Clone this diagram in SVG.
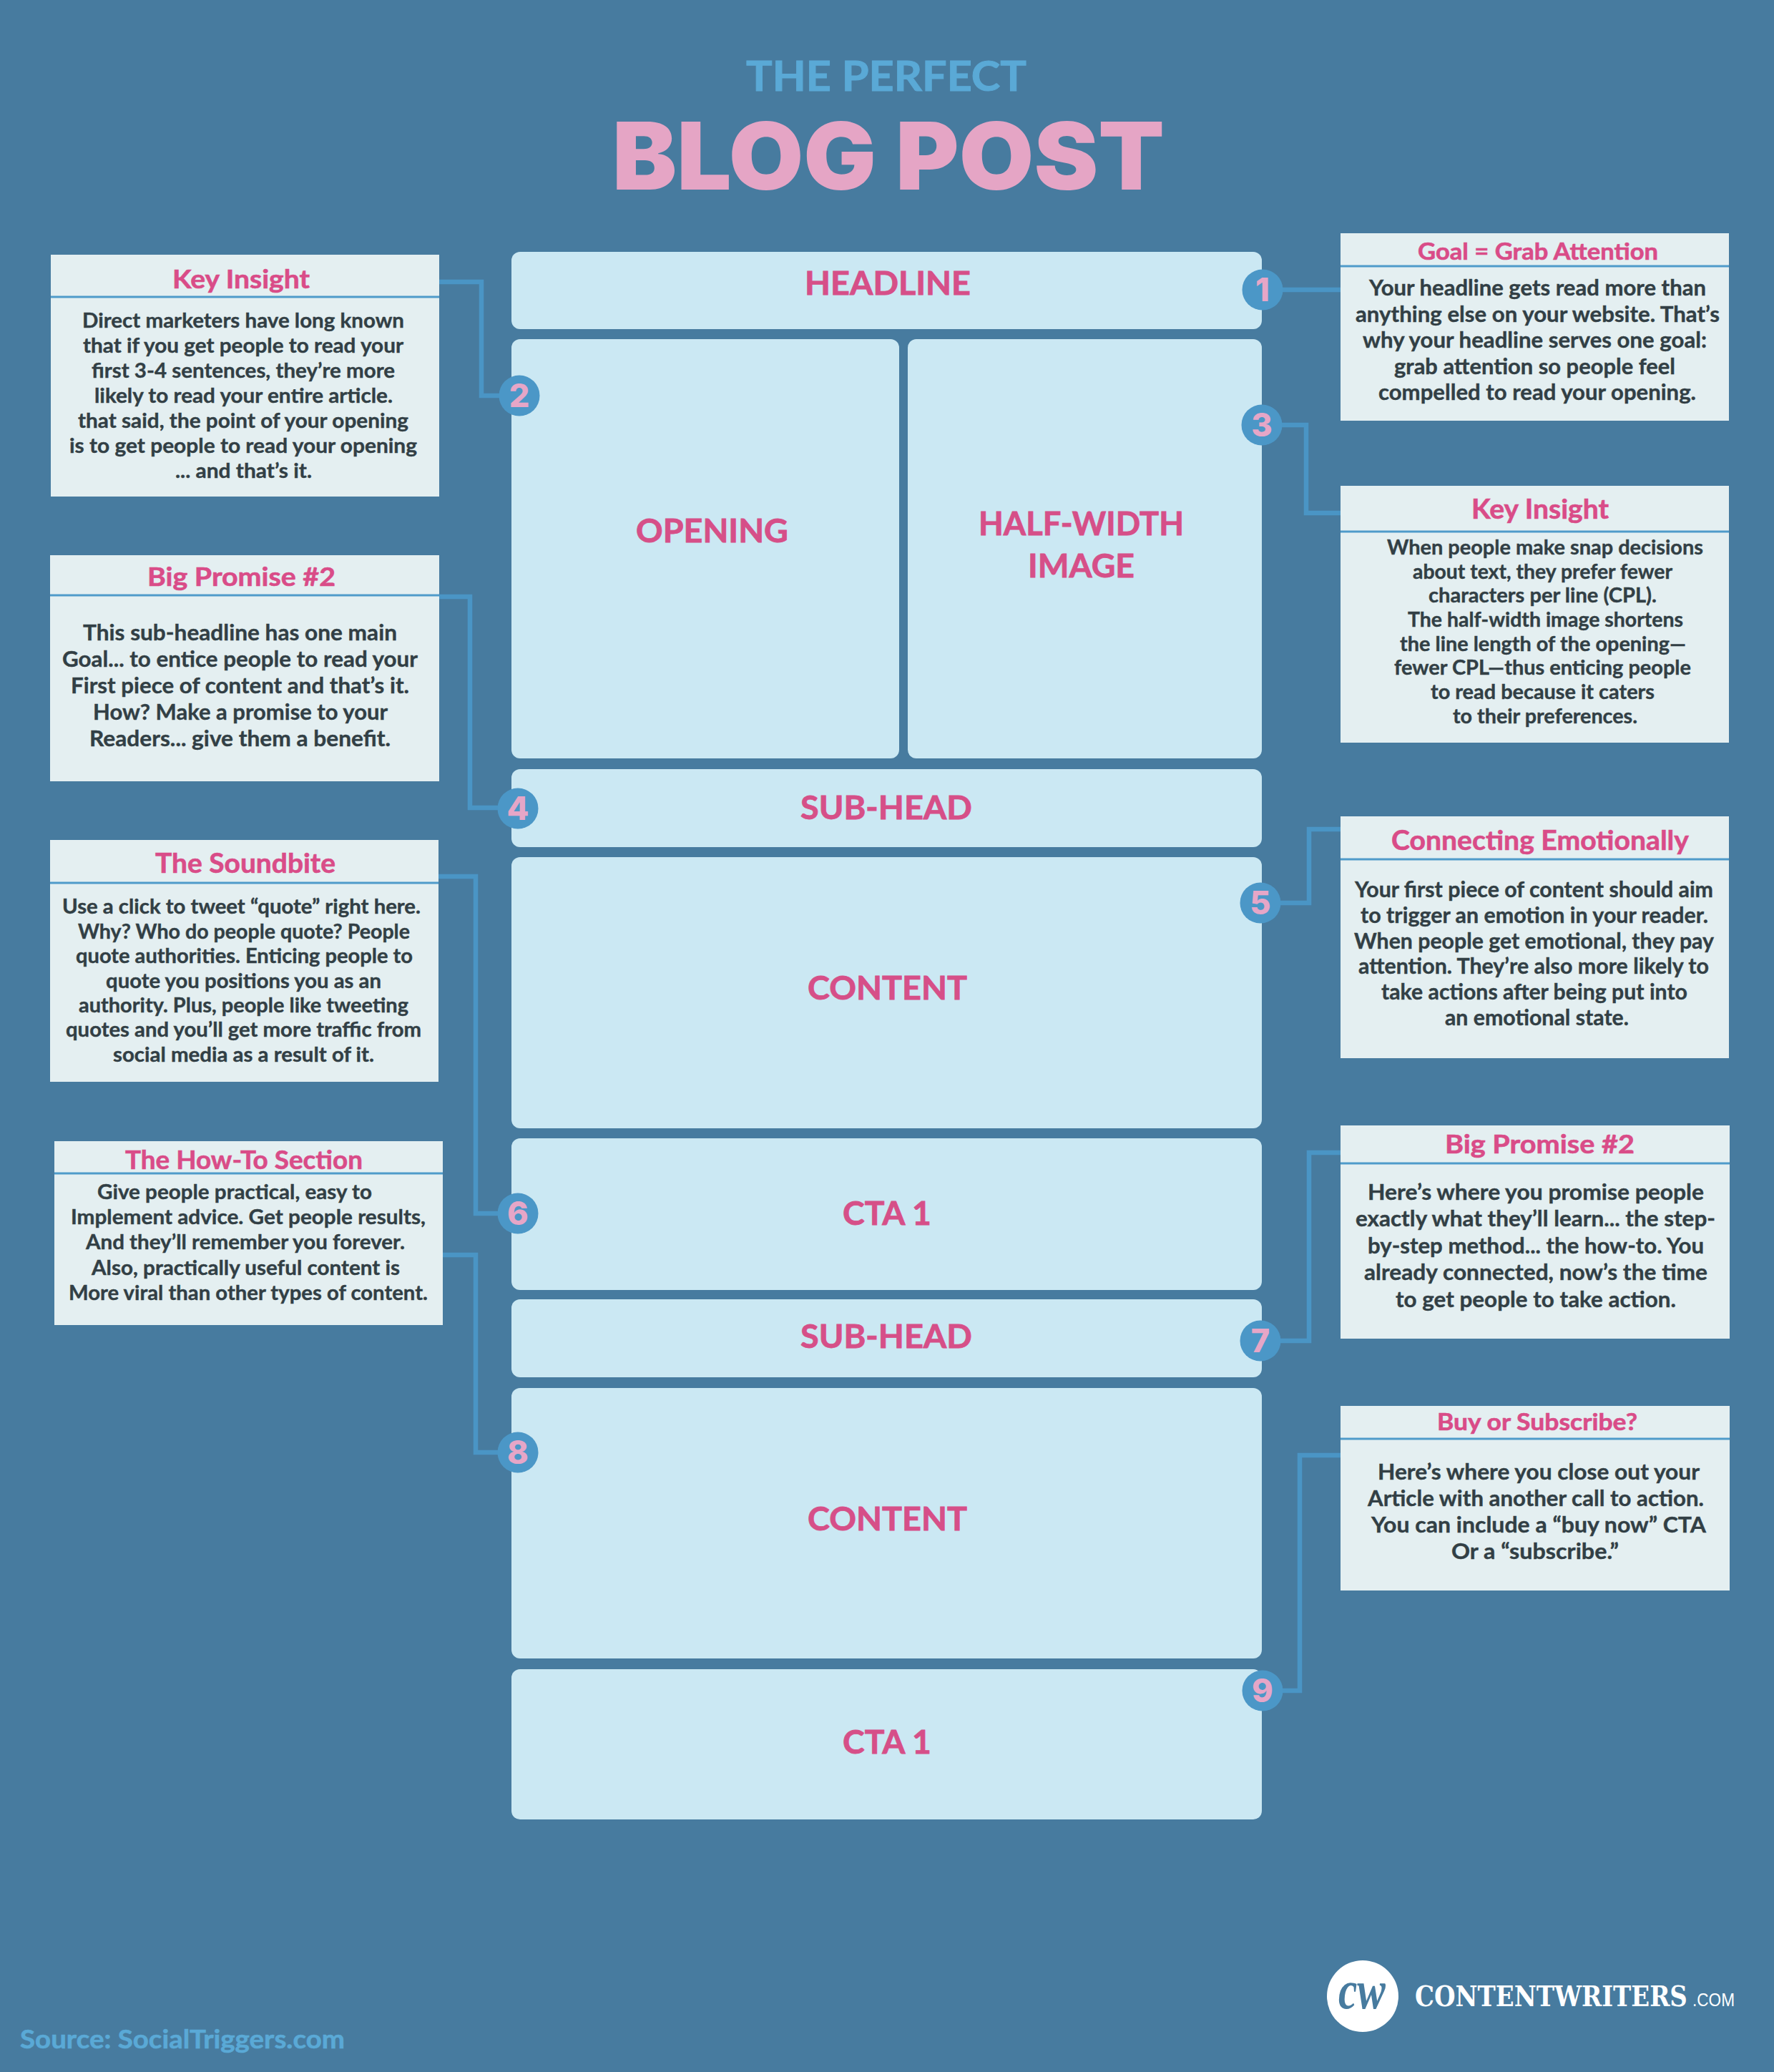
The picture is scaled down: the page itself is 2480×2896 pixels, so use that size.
<svg xmlns="http://www.w3.org/2000/svg" width="2480" height="2896" viewBox="0 0 2480 2896">
<style>
text{font-family:"Lato","Noto Sans","Liberation Sans",sans-serif;font-weight:700}
.blk{fill:#cbe8f3}
.card{fill:#e4eff1}
.rule{stroke:#4f9bca;stroke-width:3;fill:none}
.conn{stroke:#4a95c5;stroke-width:6.5;fill:none}
.bd{fill:#4b97c7}
.num{fill:#e6a6c7;font-family:"Inter","Lato",sans-serif;font-size:45px;font-weight:800;text-anchor:middle}
.lbl{fill:#d64f88;stroke:#d64f88;stroke-width:.8;font-size:45px}
.tt{fill:#d94c88;stroke:#d94c88;stroke-width:.6}
.b{fill:#323f45;stroke:#323f45;stroke-width:.4}
</style>
<rect width="2480" height="2896" fill="#477b9f"/>
<g id="title">
<text x="1043" y="127" font-size="58" fill="#5aa9d6" stroke="#5aa9d6" stroke-width="1" textLength="392" lengthAdjust="spacingAndGlyphs">THE PERFECT</text>
<text x="856" y="265" font-size="130" style="font-family:Inter,Lato,sans-serif;font-weight:900" fill="#e5a5c5" textLength="772" lengthAdjust="spacingAndGlyphs">BLOG POST</text>
</g>
<g id="block-headline"><rect class="blk" x="715" y="352" width="1049" height="108" rx="12"/><text class="lbl" x="1125" y="412" textLength="232" lengthAdjust="spacingAndGlyphs">HEADLINE</text></g>
<g id="block-opening"><rect class="blk" x="715" y="474" width="542" height="586" rx="12"/><text class="lbl" x="889" y="758" textLength="213" lengthAdjust="spacingAndGlyphs">OPENING</text></g>
<g id="block-image"><rect class="blk" x="1269" y="474" width="495" height="586" rx="12"/><text class="lbl" x="1368" y="748" textLength="287" lengthAdjust="spacingAndGlyphs">HALF-WIDTH</text><text class="lbl" x="1437" y="807" textLength="149" lengthAdjust="spacingAndGlyphs">IMAGE</text></g>
<g id="block-subhead-1"><rect class="blk" x="715" y="1075" width="1049" height="109" rx="12"/><text class="lbl" x="1119" y="1145" textLength="240" lengthAdjust="spacingAndGlyphs">SUB-HEAD</text></g>
<g id="block-content-1"><rect class="blk" x="715" y="1198" width="1049" height="379" rx="12"/><text class="lbl" x="1129" y="1397" textLength="223" lengthAdjust="spacingAndGlyphs">CONTENT</text></g>
<g id="block-cta-1"><rect class="blk" x="715" y="1591" width="1049" height="212" rx="12"/><text class="lbl" x="1178" y="1712" textLength="124" lengthAdjust="spacingAndGlyphs">CTA 1</text></g>
<g id="block-subhead-2"><rect class="blk" x="715" y="1816" width="1049" height="109" rx="12"/><text class="lbl" x="1119" y="1884" textLength="240" lengthAdjust="spacingAndGlyphs">SUB-HEAD</text></g>
<g id="block-content-2"><rect class="blk" x="715" y="1940" width="1049" height="378" rx="12"/><text class="lbl" x="1129" y="2139" textLength="223" lengthAdjust="spacingAndGlyphs">CONTENT</text></g>
<g id="block-cta-2"><rect class="blk" x="715" y="2333" width="1049" height="210" rx="12"/><text class="lbl" x="1178" y="2451" textLength="124" lengthAdjust="spacingAndGlyphs">CTA 1</text></g>
<g id="connectors">
<path class="conn" d="M1790 405H1874"/>
<path class="conn" d="M614 394H673V553H700"/>
<path class="conn" d="M1790 594H1826V717H1874"/>
<path class="conn" d="M614 834H657V1129H700"/>
<path class="conn" d="M1788 1262H1830V1159H1874"/>
<path class="conn" d="M613 1225H665V1696H700"/>
<path class="conn" d="M1788 1874H1830V1611H1874"/>
<path class="conn" d="M619 1754H665V2030H700"/>
<path class="conn" d="M1793 2363H1817V2034H1874"/>
</g>
<g id="badge-1"><circle class="bd" cx="1765" cy="405" r="28.5"/><text class="num" x="1765" y="421">1</text></g>
<g id="badge-2"><circle class="bd" cx="726" cy="553" r="28.5"/><text class="num" x="726" y="569">2</text></g>
<g id="badge-3"><circle class="bd" cx="1764" cy="594" r="28.5"/><text class="num" x="1764" y="610">3</text></g>
<g id="badge-4"><circle class="bd" cx="724" cy="1130" r="28.5"/><text class="num" x="724" y="1146">4</text></g>
<g id="badge-5"><circle class="bd" cx="1762" cy="1262" r="28.5"/><text class="num" x="1762" y="1278">5</text></g>
<g id="badge-6"><circle class="bd" cx="724" cy="1696" r="28.5"/><text class="num" x="724" y="1712">6</text></g>
<g id="badge-7"><circle class="bd" cx="1762" cy="1874" r="28.5"/><text class="num" x="1762" y="1890">7</text></g>
<g id="badge-8"><circle class="bd" cx="724" cy="2030" r="28.5"/><text class="num" x="724" y="2046">8</text></g>
<g id="badge-9"><circle class="bd" cx="1765" cy="2363" r="28.5"/><text class="num" x="1765" y="2379">9</text></g>
<g id="card-key-insight-left" font-size="29">
<rect class="card" x="71" y="356" width="543" height="338"/><path class="rule" d="M71 415H614"/>
<text class="tt" font-size="37" x="241" y="403" textLength="192" lengthAdjust="spacingAndGlyphs">Key Insight</text>
<text class="b" x="115" y="458" textLength="450" lengthAdjust="spacingAndGlyphs">Direct marketers have long known</text>
<text class="b" x="116" y="493" textLength="448" lengthAdjust="spacingAndGlyphs">that if you get people to read your</text>
<text class="b" x="128" y="528" textLength="424" lengthAdjust="spacingAndGlyphs">first 3-4 sentences, they’re more</text>
<text class="b" x="132" y="563" textLength="417" lengthAdjust="spacingAndGlyphs">likely to read your entire article.</text>
<text class="b" x="109" y="598" textLength="462" lengthAdjust="spacingAndGlyphs">that said, the point of your opening</text>
<text class="b" x="97" y="633" textLength="486" lengthAdjust="spacingAndGlyphs">is to get people to read your opening</text>
<text class="b" x="245" y="668" textLength="191" lengthAdjust="spacingAndGlyphs">... and that’s it.</text>
</g>
<g id="card-big-promise-left" font-size="31">
<rect class="card" x="70" y="776" width="544" height="316"/><path class="rule" d="M70 832H614"/>
<text class="tt" font-size="37" x="206" y="819" textLength="263" lengthAdjust="spacingAndGlyphs">Big Promise #2</text>
<text class="b" x="116" y="895" textLength="439" lengthAdjust="spacingAndGlyphs">This sub-headline has one main</text>
<text class="b" x="87" y="932" textLength="497" lengthAdjust="spacingAndGlyphs">Goal... to entice people to read your</text>
<text class="b" x="99" y="969" textLength="473" lengthAdjust="spacingAndGlyphs">First piece of content and that’s it.</text>
<text class="b" x="130" y="1006" textLength="412" lengthAdjust="spacingAndGlyphs">How? Make a promise to your</text>
<text class="b" x="125" y="1043" textLength="421" lengthAdjust="spacingAndGlyphs">Readers... give them a benefit.</text>
</g>
<g id="card-soundbite" font-size="28">
<rect class="card" x="70" y="1174" width="543" height="338"/><path class="rule" d="M70 1234H613"/>
<text class="tt" font-size="38" x="217" y="1220" textLength="252" lengthAdjust="spacingAndGlyphs">The Soundbite</text>
<text class="b" x="87" y="1277" textLength="501" lengthAdjust="spacingAndGlyphs">Use a click to tweet “quote” right here.</text>
<text class="b" x="109" y="1312" textLength="464" lengthAdjust="spacingAndGlyphs">Why? Who do people quote? People</text>
<text class="b" x="106" y="1346" textLength="471" lengthAdjust="spacingAndGlyphs">quote authorities. Enticing people to</text>
<text class="b" x="148" y="1381" textLength="385" lengthAdjust="spacingAndGlyphs">quote you positions you as an</text>
<text class="b" x="110" y="1415" textLength="461" lengthAdjust="spacingAndGlyphs">authority. Plus, people like tweeting</text>
<text class="b" x="92" y="1449" textLength="497" lengthAdjust="spacingAndGlyphs">quotes and you’ll get more traffic from</text>
<text class="b" x="158" y="1484" textLength="365" lengthAdjust="spacingAndGlyphs">social media as a result of it.</text>
</g>
<g id="card-how-to" font-size="28">
<rect class="card" x="76" y="1595" width="543" height="257"/><path class="rule" d="M76 1640H619"/>
<text class="tt" font-size="37" x="175" y="1634" textLength="332" lengthAdjust="spacingAndGlyphs">The How-To Section</text>
<text class="b" x="136" y="1676" textLength="384" lengthAdjust="spacingAndGlyphs">Give people practical, easy to</text>
<text class="b" x="99" y="1711" textLength="496" lengthAdjust="spacingAndGlyphs">Implement advice. Get people results,</text>
<text class="b" x="120" y="1746" textLength="446" lengthAdjust="spacingAndGlyphs">And they’ll remember you forever.</text>
<text class="b" x="128" y="1782" textLength="431" lengthAdjust="spacingAndGlyphs">Also, practically useful content is</text>
<text class="b" x="96" y="1817" textLength="502" lengthAdjust="spacingAndGlyphs">More viral than other types of content.</text>
</g>
<g id="card-goal" font-size="30">
<rect class="card" x="1874" y="326" width="543" height="262"/><path class="rule" d="M1874 372H2417"/>
<text class="tt" font-size="32" x="1982" y="363" textLength="336" lengthAdjust="spacingAndGlyphs">Goal = Grab Attention</text>
<text class="b" x="1914" y="413" textLength="471" lengthAdjust="spacingAndGlyphs">Your headline gets read more than</text>
<text class="b" x="1895" y="450" textLength="509" lengthAdjust="spacingAndGlyphs">anything else on your website. That’s</text>
<text class="b" x="1905" y="486" textLength="481" lengthAdjust="spacingAndGlyphs">why your headline serves one goal:</text>
<text class="b" x="1949" y="523" textLength="393" lengthAdjust="spacingAndGlyphs">grab attention so people feel</text>
<text class="b" x="1927" y="559" textLength="444" lengthAdjust="spacingAndGlyphs">compelled to read your opening.</text>
</g>
<g id="card-key-insight-right" font-size="28">
<rect class="card" x="1874" y="679" width="543" height="359"/><path class="rule" d="M1874 743H2417"/>
<text class="tt" font-size="38" x="2057" y="725" textLength="192" lengthAdjust="spacingAndGlyphs">Key Insight</text>
<text class="b" x="1939" y="775" textLength="442" lengthAdjust="spacingAndGlyphs">When people make snap decisions</text>
<text class="b" x="1975" y="809" textLength="363" lengthAdjust="spacingAndGlyphs">about text, they prefer fewer</text>
<text class="b" x="1997" y="842" textLength="319" lengthAdjust="spacingAndGlyphs">characters per line (CPL).</text>
<text class="b" x="1968" y="876" textLength="385" lengthAdjust="spacingAndGlyphs">The half-width image shortens</text>
<text class="b" x="1957" y="910" textLength="400" lengthAdjust="spacingAndGlyphs">the line length of the opening—</text>
<text class="b" x="1949" y="943" textLength="415" lengthAdjust="spacingAndGlyphs">fewer CPL—thus enticing people</text>
<text class="b" x="2000" y="977" textLength="313" lengthAdjust="spacingAndGlyphs">to read because it caters</text>
<text class="b" x="2031" y="1011" textLength="258" lengthAdjust="spacingAndGlyphs">to their preferences.</text>
</g>
<g id="card-connecting" font-size="30">
<rect class="card" x="1874" y="1141" width="543" height="338"/><path class="rule" d="M1874 1201H2417"/>
<text class="tt" font-size="38" x="1945" y="1188" textLength="416" lengthAdjust="spacingAndGlyphs">Connecting Emotionally</text>
<text class="b" x="1894" y="1254" textLength="501" lengthAdjust="spacingAndGlyphs">Your first piece of content should aim</text>
<text class="b" x="1902" y="1290" textLength="486" lengthAdjust="spacingAndGlyphs">to trigger an emotion in your reader.</text>
<text class="b" x="1893" y="1326" textLength="503" lengthAdjust="spacingAndGlyphs">When people get emotional, they pay</text>
<text class="b" x="1899" y="1361" textLength="490" lengthAdjust="spacingAndGlyphs">attention. They’re also more likely to</text>
<text class="b" x="1931" y="1397" textLength="428" lengthAdjust="spacingAndGlyphs">take actions after being put into</text>
<text class="b" x="2020" y="1433" textLength="257" lengthAdjust="spacingAndGlyphs">an emotional state.</text>
</g>
<g id="card-big-promise-right" font-size="30">
<rect class="card" x="1874" y="1573" width="544" height="298"/><path class="rule" d="M1874 1626H2418"/>
<text class="tt" font-size="37" x="2020" y="1612" textLength="265" lengthAdjust="spacingAndGlyphs">Big Promise #2</text>
<text class="b" x="1912" y="1677" textLength="470" lengthAdjust="spacingAndGlyphs">Here’s where you promise people</text>
<text class="b" x="1895" y="1714" textLength="503" lengthAdjust="spacingAndGlyphs">exactly what they’ll learn... the step-</text>
<text class="b" x="1912" y="1752" textLength="470" lengthAdjust="spacingAndGlyphs">by-step method... the how-to. You</text>
<text class="b" x="1907" y="1789" textLength="480" lengthAdjust="spacingAndGlyphs">already connected, now’s the time</text>
<text class="b" x="1951" y="1827" textLength="392" lengthAdjust="spacingAndGlyphs">to get people to take action.</text>
</g>
<g id="card-buy" font-size="30">
<rect class="card" x="1874" y="1965" width="544" height="258"/><path class="rule" d="M1874 2011H2418"/>
<text class="tt" font-size="33" x="2009" y="1999" textLength="280" lengthAdjust="spacingAndGlyphs">Buy or Subscribe?</text>
<text class="b" x="1926" y="2068" textLength="450" lengthAdjust="spacingAndGlyphs">Here’s where you close out your</text>
<text class="b" x="1912" y="2105" textLength="470" lengthAdjust="spacingAndGlyphs">Article with another call to action.</text>
<text class="b" x="1917" y="2142" textLength="468" lengthAdjust="spacingAndGlyphs">You can include a “buy now” CTA</text>
<text class="b" x="2029" y="2179" textLength="234" lengthAdjust="spacingAndGlyphs">Or a “subscribe.”</text>
</g>
<g id="logo">
<circle cx="1905" cy="2790" r="50" fill="#fff"/>
<text x="1871" y="2807" style="font-family:'Liberation Serif',serif;font-style:italic;font-weight:700" font-size="76" fill="#477b9f" textLength="66" lengthAdjust="spacingAndGlyphs">cw</text>
<text transform="translate(1978 2804) scale(.87 1)" style="font-family:'DejaVu Serif',serif;font-weight:700" font-size="39" fill="#fff">CONTENTWRITERS</text>
<text x="2366" y="2804" style="font-family:'Liberation Sans',sans-serif;font-weight:400" font-size="25" fill="#fff" textLength="59" lengthAdjust="spacingAndGlyphs">.COM</text>
</g>
<text id="source" x="28" y="2863" font-size="37" fill="#5aa9d6" stroke="#5aa9d6" stroke-width=".6" textLength="454" lengthAdjust="spacingAndGlyphs">Source: SocialTriggers.com</text>
</svg>
